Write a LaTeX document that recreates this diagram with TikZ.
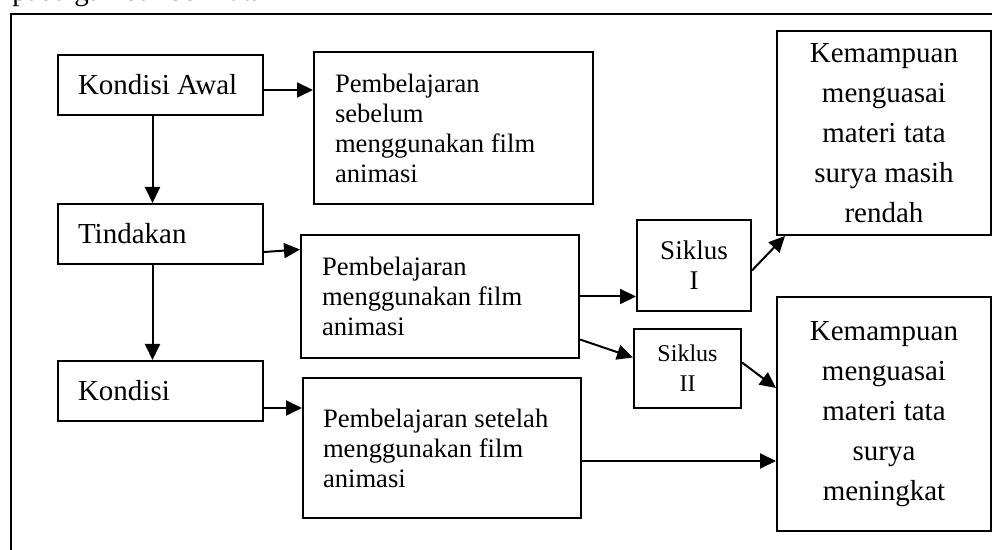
\documentclass[tikz,border=0pt]{standalone}
\usepackage{fontspec}
\setmainfont{Liberation Serif}
\usetikzlibrary{arrows.meta}

\newcommand{\kecil}{\fontsize{13.3}{15}\selectfont}
\newcommand{\besar}{\fontsize{14.5}{20}\selectfont}
\newcommand{\siklusI}{\fontsize{13.5}{15}\selectfont}
\newcommand{\siklusII}{\fontsize{12}{15}\selectfont}

\tikzset{
	kotak/.style={draw, line width=1pt, inner sep=0pt},
	kiri/.style={kotak, align=flush left, inner xsep=10pt},
	tengah/.style={kotak, align=flush center},
	panah/.style={-{Triangle[length=8pt,width=7.5pt]}, line width=1pt}
}

\begin{document}
\begin{tikzpicture}[x=0.5pt, y=-0.5pt, font=\fontsize{14.5}{17}\selectfont]
	\clip (0,0) rectangle (992,550);
	\draw[line width=1pt] (11,14) rectangle (1000,560);
	\node (judul) [anchor=base west, inner sep=0pt] at (12,1) {pada gambar berikut.};

	% kolom kiri
	\node (awal) [kiri, text width=82.5pt, minimum height=30pt] at (160.5,85) {Kondisi~Awal};
	\node (tindakan) [kiri, text width=82.5pt, minimum height=30pt] at (160.5,234) {Tindakan};
	\node (kondisi) [kiri, text width=82.5pt, minimum height=30pt] at (160.5,391) {Kondisi};

	% kolom tengah
	\node (sebelum) [kiri, inner xsep=10.5pt, text width=118.5pt, minimum height=76pt, font=\kecil] at (453.5,128) {Pembelajaran\\sebelum\\menggunakan film\\animasi};
	\node (pakai) [kiri, inner xsep=10.5pt, text width=118pt, minimum height=61.5pt, font=\kecil] at (440,296.5) {Pembelajaran\\menggunakan film\\animasi};
	\node (setelah) [kiri, inner xsep=10pt, text width=119pt, minimum height=70pt, font=\kecil] at (442,448) {Pembelajaran setelah\\menggunakan film\\animasi};

	% siklus
	\node (sik1) [tengah, text width=57pt, minimum height=45.5pt, font=\siklusI] at (694,265.5) {Siklus\\I};
	\node (sik2) [tengah, text width=53.5pt, minimum height=39.5pt, font=\siklusII] at (687.5,368.5) {Siklus\\II};

	% hasil
	\node (hasil1) [tengah, text width=107pt, minimum height=102pt, font=\besar] at (884,133) {Kemampuan\\menguasai\\materi tata\\surya masih\\rendah};
	\node (hasil2) [tengah, text width=107pt, minimum height=117pt, font=\besar] at (884,414) {Kemampuan\\menguasai\\materi tata\\surya\\meningkat};

	\draw[panah] ([yshift=-2.5pt]awal.east) -- ([yshift=-2.5pt]sebelum.west |- awal.east);
	\draw[panah] ([xshift=-4pt]awal.south) -- ([xshift=-4pt]tindakan.north);
	\draw[panah] ([yshift=-9pt]tindakan.east) -- ([yshift=23.5pt]pakai.west);
	\draw[panah] ([xshift=-4pt]tindakan.south) -- ([xshift=-4pt]kondisi.north);
	\draw[panah] ([yshift=-8.5pt]kondisi.east) -- ([yshift=-8.5pt]setelah.west |- kondisi.east);
	\draw[panah] (pakai.east) -- (sik1.west |- pakai.east);
	\draw[panah] ([yshift=-21.5pt]pakai.east) -- ([yshift=5.5pt]sik2.west);
	\draw[panah] ([yshift=-2.5pt]sik1.east) -- ([xshift=4.5pt]hasil1.south west);
	\draw[panah] ([yshift=3pt]sik2.east) -- ([yshift=13pt]hasil2.west);
	\draw[panah] ([yshift=-6.5pt]setelah.east) -- ([yshift=-6.5pt]hasil2.west |- setelah.east);
\end{tikzpicture}
\end{document}
